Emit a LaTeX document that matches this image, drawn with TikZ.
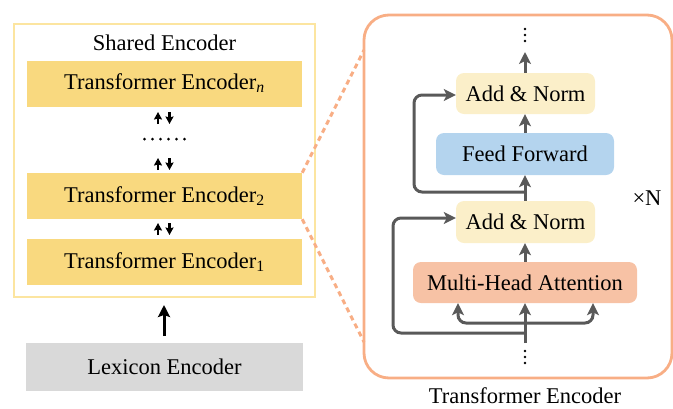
\documentclass[tikz,border=0pt]{standalone}
\usepackage{fontspec}
\setmainfont{Liberation Serif}
\usetikzlibrary{arrows.meta,calc}
\definecolor{shborder}{HTML}{FCE5A0}
\definecolor{tefill}{HTML}{F9D97F}
\definecolor{lexfill}{HTML}{D9D9D9}
\definecolor{orangeb}{HTML}{F8AE85}
\definecolor{anfill}{HTML}{FBEFC9}
\definecolor{fffill}{HTML}{B4D4EE}
\definecolor{mhafill}{HTML}{F7C2A5}
\definecolor{arrgray}{HTML}{595959}
\tikzset{
  txt/.style={font=\fontsize{22.5}{27}\selectfont, text=black, inner sep=0pt},
  tebar/.style={txt, rectangle, fill=tefill, minimum width=275pt, minimum height=46pt},
  rbox/.style={txt, rectangle, rounded corners=8pt, minimum height=41pt},
  gtip/.style={-{Stealth[length=12pt,width=12pt,inset=3pt]}},
  garrow/.style={draw=arrgray, line width=3pt, gtip},
  gline/.style={draw=arrgray, line width=3pt, rounded corners=8pt},
  smallarr/.style={draw=black, line width=2.5pt, -{Stealth[length=7.5pt,width=8pt,inset=1pt]}},
  zoomline/.style={draw=orangeb, line width=3pt, dash pattern=on 5pt off 4pt},
  dotc/.style={fill=black, circle, inner sep=0pt, minimum size=2.6pt},
}
\begin{document}
\begin{tikzpicture}[x=1pt,y=-1pt]
\useasboundingbox (0,0) rectangle (673,408);
% ---------- left panel ----------
\node[draw=shborder, line width=2.5pt, minimum width=301pt, minimum height=273pt, inner sep=0pt] (shared) at (164.5,160.5) {};
\node[txt] (shlabel) at (164.5,43) {Shared Encoder};
\node[tebar] (ten) at (164.5,83.5) {Transformer Encoder\textsubscript{\itshape n}};
\node[tebar] (te2) at (164.5,196) {Transformer Encoder\textsubscript{2}};
\node[tebar] (te1) at (164.5,262) {Transformer Encoder\textsubscript{1}};
\node[txt, rectangle, fill=lexfill, minimum width=277pt, minimum height=48pt] (lex) at (164.5,367) {Lexicon Encoder};
% dots
\foreach \i in {0,...,5} { \node[dotc, minimum size=3pt] (hd\i) at (144.5+8*\i,139) {}; }
% small arrow pairs
\foreach \yc/\nm in {118/a,164/b,229/c} {
  \coordinate (\nm u1) at (158,\yc+6);
  \coordinate (\nm u2) at (158,\yc-6);
  \coordinate (\nm d1) at (169.5,\yc-6);
  \coordinate (\nm d2) at (169.5,\yc+6);
  \draw[smallarr] (\nm u1) -- (\nm u2);
  \draw[smallarr] (\nm d1) -- (\nm d2);
}
% lexicon arrow
\coordinate (lexa) at (164,336);
\coordinate (lexb) at (164,305);
\draw[draw=black, line width=3pt, -{Stealth[length=12pt,width=12pt,inset=2pt]}] (lexa) -- (lexb);
% ---------- right panel ----------
\node[draw=orangeb, line width=2.8pt, rounded corners=25pt, minimum width=308pt, minimum height=363pt, inner sep=0pt] (tebox) at (518,196.5) {};
\coordinate (zt) at (364,50);
\coordinate (zb) at (364,342);
\draw[zoomline] (te2.north east) -- (zt);
\draw[zoomline] (te2.south east) -- (zb);
\node[rbox, fill=anfill, minimum width=139pt] (an1) at (525.5,93.5) {Add \& Norm};
\node[rbox, fill=fffill, minimum width=178pt, minimum height=42pt] (ff) at (525,154) {Feed Forward};
\node[rbox, fill=anfill, minimum width=139pt, minimum height=42pt] (an2) at (525.5,222) {Add \& Norm};
\node[rbox, fill=mhafill, minimum width=224pt] (mha) at (525,282.5) {Multi-Head Attention};
\node[txt] (xn) at (647,198) {×N};
\node[txt] (telabel) at (525,396) {Transformer Encoder};
% vertical dots
\foreach \yy/\nm in {29/t1,35/t2,41/t3,351/b1,357/b2,363/b3} { \node[dotc] (vd\nm) at (525,\yy) {}; }
% arrows
\coordinate (topend) at (525,52);
\draw[garrow] (an1.north -| 525,0) -- (topend);
\draw[garrow] (ff.north -| 525,0) -- (an1.south -| 525,0);
\draw[garrow] (an2.north -| 525,0) -- (ff.south -| 525,0);
\draw[garrow] (mha.north -| 525,0) -- (an2.south -| 525,0);
\coordinate (inbot) at (525,343);
\draw[garrow] (inbot) -- (mha.south -| 525,0);
% residual connections
\coordinate (r1s) at (525,192);
\draw[gline, gtip] (r1s) -- (414,192) -- (414,95) -- (an1.west |- 0,95);
\coordinate (r2s) at (525,333);
\draw[gline, gtip] (r2s) -- (393,333) -- (393,218) -- (an2.west |- 0,218);
% branches into MHA
\coordinate (brs) at (525,323);
\draw[gline, gtip] (brs) -- (458,323) -- (mha.south -| 458,0);
\draw[gline, gtip] (brs) -- (593,323) -- (mha.south -| 593,0);
\end{tikzpicture}
\end{document}
